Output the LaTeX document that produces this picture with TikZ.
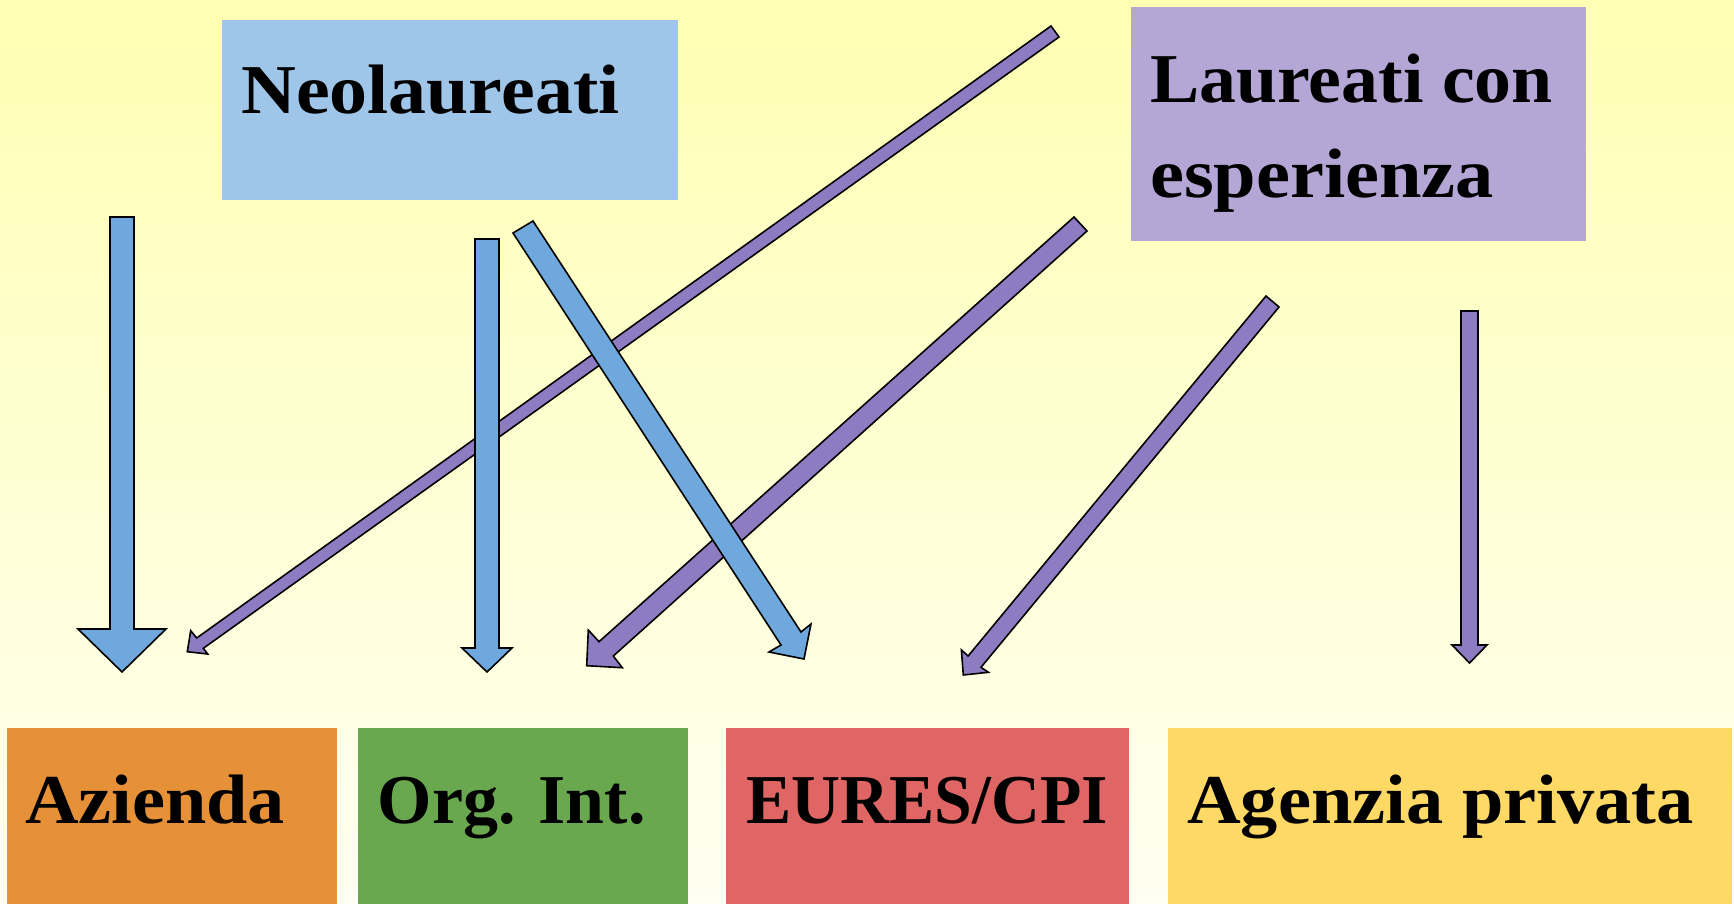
\documentclass[tikz,border=0pt]{standalone}
\usepackage{fontspec}
\usepackage{graphicx}
\setmainfont{Liberation Serif}[FakeStretch=1.04]
\usetikzlibrary{calc}
\definecolor{bgtop}{HTML}{FFFFB3}
\definecolor{bgbot}{HTML}{FFFFF2}
\definecolor{neoblue}{HTML}{9FC5E8}
\definecolor{laulilac}{HTML}{B4A7D6}
\definecolor{azorange}{HTML}{E69138}
\definecolor{orggreen}{HTML}{6AA84F}
\definecolor{eured}{HTML}{E06666}
\definecolor{agyellow}{HTML}{FFD966}
\definecolor{arrblue}{HTML}{6FA8DC}
\definecolor{arrpurple}{HTML}{8E7CC3}
\newcommand\hsq[2]{\scalebox{#1}[1]{#2}}
\begin{document}
\begin{tikzpicture}[x=1pt,y=-1pt,
  box/.style={draw=none, inner sep=0pt, anchor=north west},
  lbl/.style={anchor=base west, inner sep=0pt, text=black,
    font=\fontsize{70}{84}\selectfont\bfseries},
  blockarrow/.style={draw=black, line width=1.6pt, line join=miter}]
\useasboundingbox (0,0) rectangle (1734,904);
\shade[top color=bgtop, bottom color=bgbot] (0,0) rectangle (1734,904);

% source boxes
\node[box, fill=neoblue, minimum width=456pt, minimum height=180pt] (neo) at (222,20) {};
\node[lbl] (neotxt) at ($(neo.north west)+(19,94)$) {\hsq{1.043}{Neolaureati}};
\node[box, fill=laulilac, minimum width=455.5pt, minimum height=233.5pt] (lau) at (1130.5,7) {};
\node[lbl] (lautxt1) at ($(lau.north west)+(19.5,96)$) {\hsq{1.014}{Laureati con}};
\node[lbl] (lautxt2) at ($(lau.north west)+(19.5,191)$) {\hsq{1.05}{esperienza}};

% target boxes
\node[box, fill=azorange, minimum width=330pt, minimum height=176pt] (az) at (7,728) {};
\node[lbl] (aztxt) at ($(az.north west)+(18,95)$) {\hsq{1.02}{Azienda}};
\node[box, fill=orggreen, minimum width=330pt, minimum height=176pt] (org) at (358,728) {};
\node[lbl] (orgtxt) at ($(org.north west)+(19.5,95)$) {\hsq{0.96}{Org. Int.}};
\node[box, fill=eured, minimum width=403.5pt, minimum height=176pt] (eu) at (725.5,728) {};
\node[lbl] (eutxt) at ($(eu.north west)+(21,95)$) {\hsq{0.93}{EURES/CPI}};
\node[box, fill=agyellow, minimum width=564pt, minimum height=176pt] (ag) at (1168,728) {};
\node[lbl] (agtxt) at ($(ag.north west)+(19,95)$) {\hsq{1.022}{Agenzia privata}};

% purple arrows (Laureati con esperienza)
\draw[blockarrow, fill=arrpurple] (1051,26) -- (1059,37) -- (203.3,648.3) -- (207.7,654)
  -- (187.3,651.7) -- (190.7,630.7) -- (196.7,638) -- cycle;
\draw[blockarrow, fill=arrpurple] (1074,217) -- (1087,231) -- (613.3,656) -- (622.3,667.7)
  -- (586.7,665.7) -- (588.3,630) -- (599,641.7) -- cycle;
\draw[blockarrow, fill=arrpurple] (1266,296) -- (1279,307) -- (981,667.3) -- (988.4,672.3)
  -- (963.3,675) -- (961.4,650) -- (968.1,656) -- cycle;
\draw[blockarrow, fill=arrpurple] (1461,311) -- (1478,311) -- (1478,645) -- (1487,645)
  -- (1469.5,663) -- (1452,645) -- (1461,645) -- cycle;

% blue arrows (Neolaureati)
\draw[blockarrow, fill=arrblue] (110,217) -- (134,217) -- (134,629) -- (166,629)
  -- (122,672) -- (78,629) -- (110,629) -- cycle;
\draw[blockarrow, fill=arrblue] (475,239) -- (499,239) -- (499,648) -- (512,648)
  -- (487,672) -- (462,648) -- (475,648) -- cycle;
\draw[blockarrow, fill=arrblue] (513,233) -- (533,221) -- (801,632) -- (811,624)
  -- (804,659) -- (769,652) -- (781,645) -- cycle;
\end{tikzpicture}
\end{document}
